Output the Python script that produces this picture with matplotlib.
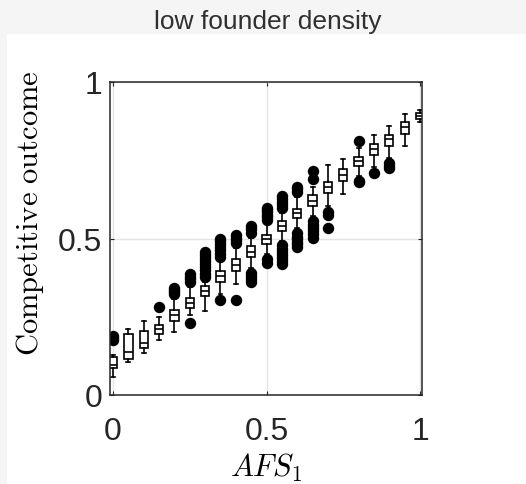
import matplotlib
matplotlib.use("Agg")
import matplotlib.pyplot as plt
from matplotlib.patches import Rectangle

# founder share positions (AFS_1) and box statistics
afs = [0.0, 0.05, 0.1, 0.15, 0.2, 0.25, 0.3, 0.35, 0.4, 0.45, 0.5,
       0.55, 0.6, 0.65, 0.7, 0.75, 0.8, 0.85, 0.9, 0.95, 1.0]
med = [0.095, 0.137, 0.166, 0.211, 0.256, 0.294, 0.332, 0.380, 0.415, 0.457, 0.498,
       0.540, 0.581, 0.620, 0.664, 0.703, 0.748, 0.786, 0.818, 0.856, 0.891]
q1 = [0.086, 0.115, 0.150, 0.195, 0.236, 0.278, 0.316, 0.361, 0.396, 0.441, 0.482,
      0.524, 0.565, 0.604, 0.645, 0.684, 0.732, 0.767, 0.796, 0.834, 0.882]
q3 = [0.121, 0.195, 0.204, 0.224, 0.272, 0.310, 0.348, 0.396, 0.435, 0.476, 0.511,
      0.556, 0.594, 0.639, 0.681, 0.722, 0.760, 0.802, 0.830, 0.872, 0.901]
whislo = [0.058, 0.105, 0.134, 0.176, 0.201, 0.255, 0.268, 0.322, 0.355, 0.405, 0.452,
          0.492, 0.535, 0.572, 0.605, 0.642, 0.700, 0.730, 0.756, 0.796, 0.872]
whishi = [0.128, 0.211, 0.236, 0.249, 0.307, 0.345, 0.362, 0.428, 0.470, 0.503, 0.545,
          0.582, 0.632, 0.665, 0.735, 0.754, 0.790, 0.830, 0.860, 0.898, 0.910]
outliers = [
    [0.177, 0.183, 0.19],
    [],
    [],
    [0.28],
    [0.324, 0.330, 0.336, 0.341],
    [0.23, 0.362, 0.370, 0.378, 0.385],
    [0.378, 0.388, 0.398, 0.408, 0.418, 0.428, 0.438, 0.448, 0.456],
    [0.305, 0.442, 0.452, 0.462, 0.472, 0.482, 0.492, 0.50],
    [0.305, 0.487, 0.495, 0.503, 0.51],
    [0.362, 0.371, 0.380, 0.389, 0.519, 0.529, 0.539],
    [0.423, 0.436, 0.56, 0.568, 0.576, 0.584, 0.592, 0.596],
    [0.417, 0.427, 0.437, 0.447, 0.457, 0.467, 0.478, 0.599, 0.608, 0.617, 0.626, 0.635],
    [0.474, 0.482, 0.490, 0.498, 0.506, 0.516, 0.65, 0.658, 0.666],
    [0.503, 0.513, 0.523, 0.533, 0.543, 0.555, 0.69, 0.715],
    [0.535, 0.575, 0.585],
    [],
    [0.68, 0.685, 0.812],
    [0.71],
    [0.726, 0.733, 0.74],
    [],
    [],
]

plt.rcParams['mathtext.fontset'] = 'cm'

fig = plt.figure(figsize=(5.26, 4.85), dpi=100, facecolor='#f5f5f5')
# white panel under the axes (gray strip on top and left like the source)
fig.patches.append(Rectangle((7 / 526, 0), 1, (485 - 35) / 485, transform=fig.transFigure,
                             facecolor='white', edgecolor='none', zorder=-5))
fig.text(268 / 526, 1 - 22 / 485, 'low founder density', ha='center', va='center',
         fontsize=19, family='Liberation Sans', color='#303030')

ax = fig.add_axes([110 / 526, 1 - 396 / 485, 312 / 526, 313 / 485])
ax.set_facecolor('white')

stats = []
for i in range(len(afs)):
    stats.append({'med': med[i], 'q1': q1[i], 'q3': q3[i],
                  'whislo': whislo[i], 'whishi': whishi[i], 'fliers': outliers[i]})

ax.bxp(stats, positions=afs, widths=0.027, capwidths=0.013, patch_artist=True,
       boxprops=dict(facecolor='white', edgecolor='black', linewidth=1.2),
       medianprops=dict(color='black', linewidth=1.2),
       whiskerprops=dict(color='black', linewidth=1.2),
       capprops=dict(color='black', linewidth=1.2),
       flierprops=dict(marker='o', markerfacecolor='black', markeredgecolor='black',
                       markersize=7.2, linestyle='none'),
       manage_ticks=False)

ax.set_xlim(-0.01, 1.0065)
ax.set_ylim(0, 1)
ax.set_xticks([0, 0.5, 1])
ax.set_yticks([0, 0.5, 1])
ax.set_xticklabels(['0', '0.5', '1'])
ax.set_yticklabels(['0', '0.5', '1'])
ax.grid(True, color='#e3e3e3', linewidth=1.0)
ax.set_axisbelow(True)

ax.tick_params(direction='in', length=3, width=0.8, top=True, right=True,
               colors='#262626', labelsize=23)
ax.tick_params(axis='x', pad=15)
ax.tick_params(axis='y', pad=5.5)
for lab in ax.get_xticklabels() + ax.get_yticklabels():
    lab.set_family('Liberation Sans')
for sp in ax.spines.values():
    sp.set_color('#262626')
    sp.set_linewidth(1.1)

ax.set_xlabel(r'$AFS_1$', fontsize=22, va='center')
ax.xaxis.set_label_coords(0.5, -0.23)
ax.set_ylabel(r'$\mathrm{Competitive\ outcome}$', fontsize=22, va='center')
ax.yaxis.set_label_coords(-0.256, 0.585)

fig.savefig('out.png', dpi=100, facecolor=fig.get_facecolor())
